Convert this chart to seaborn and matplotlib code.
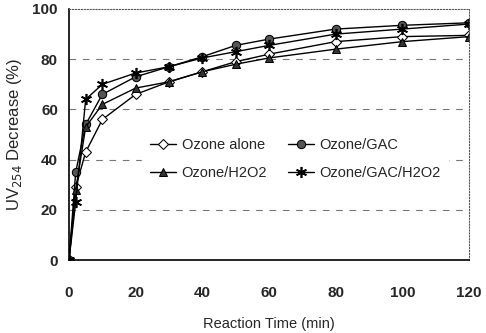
import numpy as np
import pandas as pd
import seaborn as sns
from matplotlib import pyplot as plt

time_min = [0, 2, 5, 10, 20, 30, 40, 50, 60, 80, 100, 120]
ozone_alone = [0, 29, 43, 56, 66, 71, 75, 79, 82, 87, 89, 89.5]
ozone_gac = [0, 35, 54, 66, 73, 77, 81, 85.5, 88, 92, 93.5, 94.5]
ozone_h2o2 = [0, 28, 53, 62, 68.5, 71, 75, 78, 80.5, 84, 87, 89]
ozone_gac_h2o2 = [0, 23, 64, 70, 74.5, 77, 80.5, 83, 85.5, 90, 92, 94]
series_names = ['Ozone alone', 'Ozone/GAC', 'Ozone/H2O2', 'Ozone/GAC/H2O2']

df = pd.DataFrame({
    'time': time_min * 4,
    'decrease': ozone_alone + ozone_gac + ozone_h2o2 + ozone_gac_h2o2,
    'series': np.repeat(series_names, len(time_min)),
})

sns.set_style('white')
plt.rcParams['font.family'] = ['Liberation Sans', 'DejaVu Sans']

fig = plt.figure(figsize=(4.86, 3.33), dpi=100)
ax = fig.add_axes([0.142, 0.219, 0.823, 0.754])

styles = {
    'Ozone alone': dict(marker='D', markerfacecolor='white', markersize=5),
    'Ozone/GAC': dict(marker='o', markerfacecolor='#555555', markersize=6),
    'Ozone/H2O2': dict(marker='^', markerfacecolor='#333333', markersize=6),
    'Ozone/GAC/H2O2': dict(marker=(6, 2, 0), markersize=8, markeredgewidth=1.2),
}
for name in series_names:
    sub = df[df['series'] == name]
    sns.lineplot(data=sub, x='time', y='decrease', ax=ax, color='black',
                 linewidth=1.0, markeredgecolor='black', label=name,
                 **styles[name])

ax.set_xlim(0, 120)
ax.set_ylim(0, 100)
ax.set_xticks(range(0, 121, 20))
ax.set_yticks(range(0, 101, 20))
for y in [20, 40, 60, 80]:
    ax.axhline(y, color='#777777', linestyle=(0, (6, 6)), linewidth=0.8, zorder=0)

for side in ['left', 'bottom']:
    ax.spines[side].set_color('black')
    ax.spines[side].set_linewidth(1.2)
for side in ['top', 'right']:
    ax.spines[side].set_color('#555555')
    ax.spines[side].set_linestyle(':')
    ax.spines[side].set_linewidth(0.8)

ax.tick_params(axis='x', direction='in', length=3, width=0.8, pad=19)
ax.tick_params(axis='y', direction='in', length=3, width=0.8, pad=8)
for lab in ax.get_xticklabels() + ax.get_yticklabels():
    lab.set_fontweight('bold')
    lab.set_fontsize(11)

ax.set_xlabel('Reaction Time (min)', fontsize=10.5, labelpad=12)
ax.set_ylabel('UV$_{254}$ Decrease (%)', fontsize=12, labelpad=6)

# legend rows: alone | GAC, H2O2 | GAC/H2O2 (matplotlib fills by column)
handles, labels = ax.get_legend_handles_labels()
order = [0, 2, 1, 3]
leg = ax.legend([handles[i] for i in order], [labels[i] for i in order],
                loc='upper left', bbox_to_anchor=(0.165, 0.545), ncol=2,
                frameon=True, edgecolor='white', framealpha=1, fancybox=False,
                handlelength=1.8, handletextpad=0.4, columnspacing=1.4,
                labelspacing=1.0, borderpad=0.5, fontsize=10.5)

plt.savefig('out.png', dpi=100)
